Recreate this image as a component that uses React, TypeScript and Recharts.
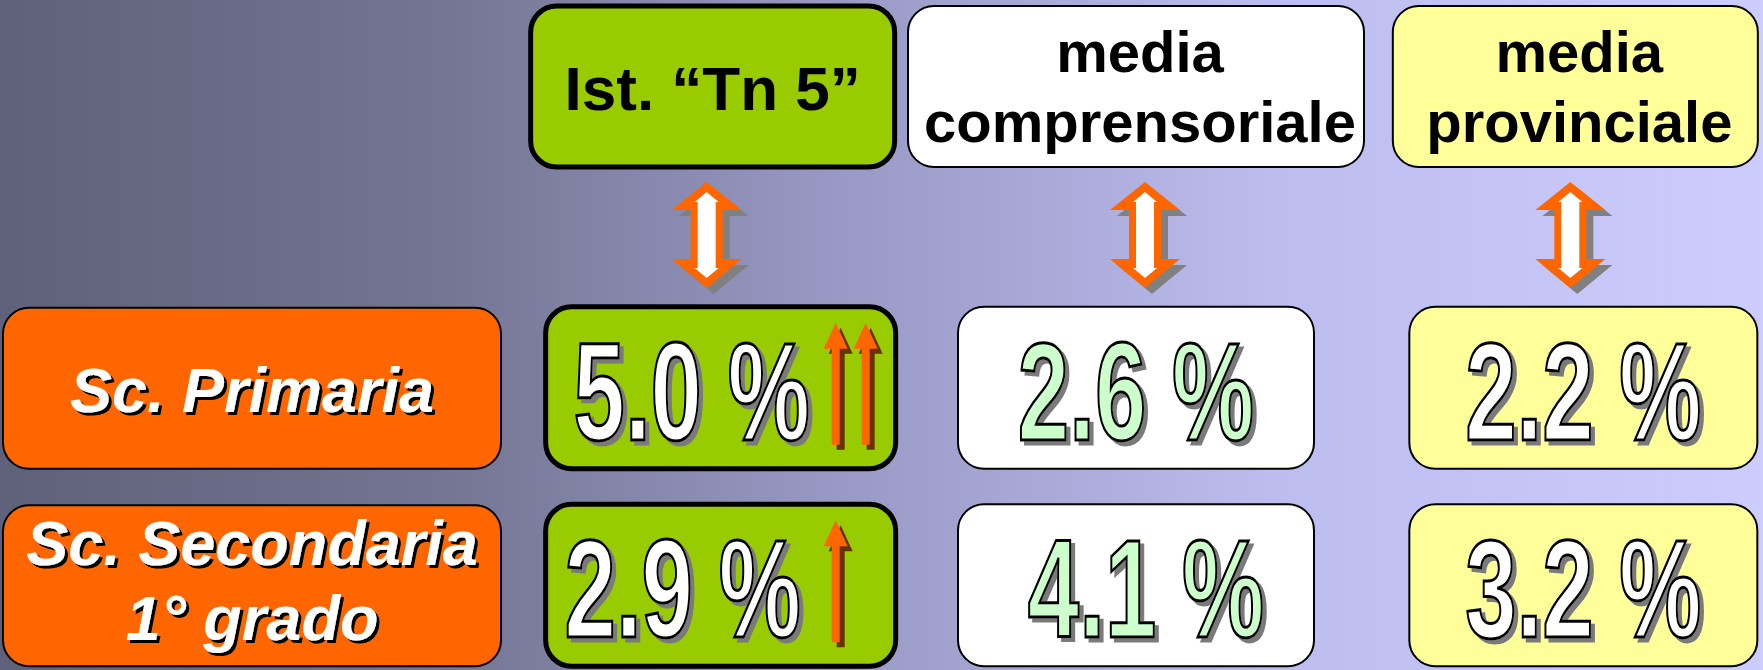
import { ScatterChart, Scatter, XAxis, YAxis } from 'recharts';

// column headers (\n = line break in the box)
const groups = ['Ist. “Tn 5”', 'media\ncomprensoriale', 'media\nprovinciale'];
// row labels
const schools = ['Sc. Primaria', 'Sc. Secondaria\n1° grado'];

// percentages per row (Primaria, Secondaria)
const istValues = [5.0, 2.9];
const comprensorioValues = [2.6, 4.1];
const provinciaValues = [2.2, 3.2];
// number of "up" arrows next to the institute value
const upArrows = [2, 1];

const seriesByGroup = [istValues, comprensorioValues, provinciaValues];

const points = schools.flatMap((school, row) =>
  groups.map((group, col) => ({
    group,
    school,
    col,
    row,
    value: seriesByGroup[col][row],
    arrows: col === 0 ? upArrows[row] : 0,
  }))
);

const FONT = '"Liberation Sans", Arial, sans-serif';
const ORANGE = '#FF6600';

// box look per column
const colStyle = [
  { fill: '#99CC00', border: 5, text: '#FFFFFF', dx: 4, w: 350, hdx: -4, hw: 364, adx: -10, fs: 62 },
  { fill: '#FFFFFF', border: 2, text: '#CCFFCC', dx: -12, w: 356, hdx: -12, hw: 456, adx: -3, fs: 58 },
  { fill: '#FFFF99', border: 2, text: '#FFFFFF', dx: 4, w: 348, hdx: -4, hw: 365, adx: -9, fs: 58 },
];

function Filters() {
  return (
    <defs>
      <filter id="valShadow" x="-10%" y="-10%" width="130%" height="130%">
        <feOffset in="SourceAlpha" dx={6} dy={4} result="off" />
        <feFlood floodColor="#7a7a7a" />
        <feComposite in2="off" operator="in" result="sh" />
        <feMerge>
          <feMergeNode in="sh" />
          <feMergeNode in="SourceGraphic" />
        </feMerge>
      </filter>
      <filter id="labelShadow" x="-10%" y="-20%" width="130%" height="150%">
        <feOffset in="SourceAlpha" dx={3} dy={3} result="off" />
        <feFlood floodColor="#000" />
        <feComposite in2="off" operator="in" result="sh" />
        <feMerge>
          <feMergeNode in="sh" />
          <feMergeNode in="SourceGraphic" />
        </feMerge>
      </filter>
    </defs>
  );
}

function HeaderTick(props: any) {
  const { x, y, payload } = props;
  const col = groups.indexOf(payload.value);
  const st = colStyle[col];
  const lines = String(payload.value).split('\n');
  const bx = x + st.hdx - st.hw / 2;
  const by = y - 283;
  const ax = x + st.adx;
  const top = y - 107;
  const bot = y - 1;
  const outer = (ox: number, oy: number) =>
    `M${ax + ox},${top + oy} L${ax + 35 + ox},${top + 28 + oy} L${ax + 16 + ox},${top + 28 + oy} L${ax + 16 + ox},${bot - 29 + oy} L${ax + 35 + ox},${bot - 29 + oy} L${ax + ox},${bot + oy} L${ax - 35 + ox},${bot - 29 + oy} L${ax - 16 + ox},${bot - 29 + oy} L${ax - 16 + ox},${top + 28 + oy} L${ax - 35 + ox},${top + 28 + oy} Z`;
  const inner = `M${ax},${top + 10} L${ax + 12},${top + 20} L${ax + 9},${top + 20} L${ax + 9},${bot - 20} L${ax + 12},${bot - 20} L${ax},${bot - 10} L${ax - 12},${bot - 20} L${ax - 9},${bot - 20} L${ax - 9},${top + 20} L${ax - 12},${top + 20} Z`;
  return (
    <g>
      {col === 0 && <Filters />}
      <rect x={bx} y={by} width={st.hw} height={161} rx={26} fill={st.fill} stroke="#000" strokeWidth={st.border} />
      {lines.length === 1 ? (
        <text x={bx + st.hw / 2} y={by + 104} textAnchor="middle" fontFamily={FONT} fontWeight="bold" fontSize={st.fs} fill="#000">
          {lines[0]}
        </text>
      ) : (
        lines.map((l, i) => (
          <text key={i} x={bx + st.hw / 2 + 4} y={by + 66 + i * 70} textAnchor="middle" fontFamily={FONT} fontWeight="bold" fontSize={st.fs} fill="#000">
            {l}
          </text>
        ))
      )}
      <path d={outer(7, 6)} fill="#808080" />
      <path d={outer(0, 0)} fill={ORANGE} />
      <path d={inner} fill="#FFFFFF" />
    </g>
  );
}

function SchoolTick(props: any) {
  const { x, y, payload } = props;
  const lines = String(payload.value).split('\n');
  const cx = x - 249;
  const base = lines.length === 1 ? [y + 24] : [y - 20, y + 55];
  return (
    <g>
      <rect x={x - 498} y={y - 80} width={498} height={161} rx={26} fill={ORANGE} stroke="#000" strokeWidth={2} />
      {lines.map((l, i) => (
        <text key={i} x={cx} y={base[i]} textAnchor="middle" fontFamily={FONT} fontWeight="bold" fontStyle="italic" fontSize={63} fill="#FFFFFF" filter="url(#labelShadow)">
          {l}
        </text>
      ))}
    </g>
  );
}

function ValueBox(props: any) {
  const { cx, cy, payload } = props;
  const st = colStyle[payload.col];
  const bx = cx + st.dx - st.w / 2;
  const by = cy - 81;
  const tx = payload.col === 0 ? bx + (payload.row === 0 ? 146 : 137) : bx + st.w / 2 + (payload.col === 1 && payload.row === 1 ? 10 : 0);
  const label = `${payload.value.toFixed(1)} %`;
  const arrows = [];
  for (let i = 0; i < payload.arrows; i++) {
    const ax = bx + 290 + i * 30;
    const top = cy - 65;
    const bot = cy + 57;
    const p = (o: number) =>
      `M${ax + o},${top + o} L${ax + 12 + o},${top + 26 + o} L${ax + 4 + o},${top + 26 + o} L${ax + 4 + o},${bot + o} L${ax - 4 + o},${bot + o} L${ax - 4 + o},${top + 26 + o} L${ax - 12 + o},${top + 26 + o} Z`;
    arrows.push(
      <g key={i}>
        <path d={p(5)} fill="#663300" />
        <path d={p(0)} fill={ORANGE} />
      </g>
    );
  }
  return (
    <g>
      <rect x={bx} y={by} width={st.w} height={162} rx={26} fill={st.fill} stroke="#000" strokeWidth={st.border} />
      <g transform={`translate(${tx},${cy + 52}) scale(0.66,1)`}>
        <text x={0} y={0} textAnchor="middle" fontFamily={FONT} fontWeight="bold" fontSize={140} fill={st.text} stroke="#000" strokeWidth={3} filter="url(#valShadow)">
          {label}
        </text>
      </g>
      {arrows}
    </g>
  );
}

export default function App() {
  return (
    <div
      style={{
        position: 'absolute',
        left: 0,
        top: 0,
        width: 1763,
        height: 670,
        overflow: 'hidden',
        background: 'linear-gradient(to right, #5F6079 0%, #737592 25%, #9898C4 47%, #BCBCEE 72%, #CCCCFF 100%)',
      }}
    >
      <ScatterChart width={1795} height={684} margin={{ top: 0, right: 0, bottom: 0, left: 0 }}>
        <XAxis
          xAxisId={0}
          type="category"
          dataKey="group"
          orientation="top"
          height={289}
          allowDuplicatedCategory={false}
          axisLine={false}
          tickLine={false}
          tickSize={0}
          tickMargin={0}
          interval={0}
          tick={HeaderTick}
        />
        <YAxis
          yAxisId={0}
          type="category"
          dataKey="school"
          width={501}
          reversed
          allowDuplicatedCategory={false}
          axisLine={false}
          tickLine={false}
          tickSize={0}
          tickMargin={0}
          interval={0}
          tick={SchoolTick}
        />
        <Scatter data={points} shape={ValueBox} isAnimationActive={false} />
      </ScatterChart>
    </div>
  );
}
